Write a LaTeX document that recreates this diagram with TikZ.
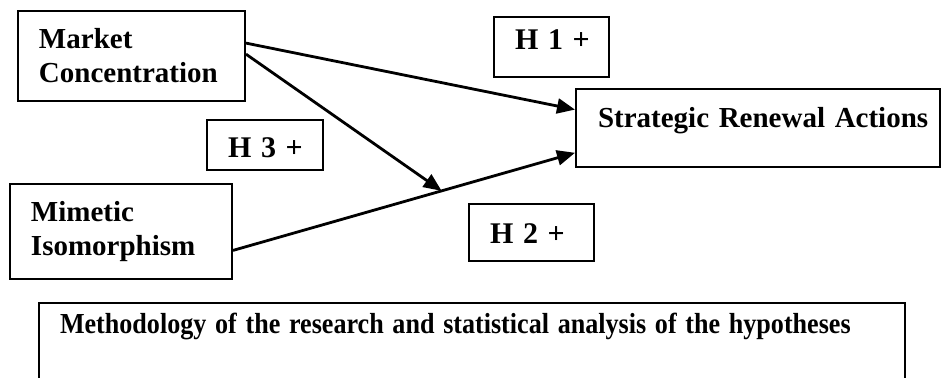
\documentclass[tikz,border=0pt]{standalone}
\usepackage{fontspec}
\usepackage{graphicx}
\setmainfont{Liberation Serif}
\usetikzlibrary{arrows.meta,calc}
\newcommand\hyp[1]{\mbox{{\fontsize{15}{18}\selectfont\bfseries H #1} {\fontsize{15}{18}\selectfont +}}}

\begin{document}
\begin{tikzpicture}[x=0.5pt,y=-0.5pt,
 blk/.style={draw,line width=1pt,anchor=north west,align=left,inner ysep=0pt,inner xsep=10.5pt,
  font=\fontsize{14.5}{17}\selectfont\bfseries},
 >={Triangle[length=9pt,width=7.5pt]}]
\useasboundingbox (0,0) rectangle (941,378);
\clip (0,0) rectangle (941,378);
% variables and outcome
\node(mc)[blk,text width=92.5pt,minimum height=45pt] at (17,10) {Market\\Concentration};
\node(mi)[blk,text width=90pt,minimum height=47.5pt] at (9,183) {Mimetic\\Isomorphism};
\node(sr)[blk,inner xsep=11pt,text width=160pt,text height=19.5pt,text depth=19.5pt] at (575,88)
 {\mbox{Strategic Renewal Actions}};
% hypotheses
\node(h1)[blk,text width=36.5pt,text height=16.5pt,text depth=13.5pt] at (493,16) {\hyp{1}};
\node(h3)[blk,text width=37pt,text height=19pt,text depth=6pt] at (206,119) {\hyp{3}};
\node(h2)[blk,text width=41.5pt,text height=20pt,text depth=8.5pt] at (468,203) {\hyp{2}};
% bottom box, cut off by the page
\node(meth)[blk,text width=412pt,text height=15.5pt,text depth=60pt] at (38,302)
 {\mbox{\scalebox{.9}[1]{Methodology of the research and statistical analysis of the hypotheses}}};
% arrows
\coordinate (mc1) at ($(mc.north east)!.36!(mc.south east)$);
\coordinate (mc2) at ($(mc.north east)!.48!(mc.south east)$);
\coordinate (mi1) at ($(mi.north east)!.695!(mi.south east)$);
\coordinate (sr1) at ($(sr.north west)!.27!(sr.south west)$);
\coordinate (sr2) at ($(sr.north west)!.81!(sr.south west)$);
\coordinate (mod) at ($(mi1)!.61!(sr2)$);
\draw[->,line width=1.4pt] (mc1) -- (sr1);
\draw[->,line width=1.4pt] (mi1) -- (sr2);
\draw[->,line width=1.4pt] (mc2) -- (mod);
\end{tikzpicture}
\end{document}
